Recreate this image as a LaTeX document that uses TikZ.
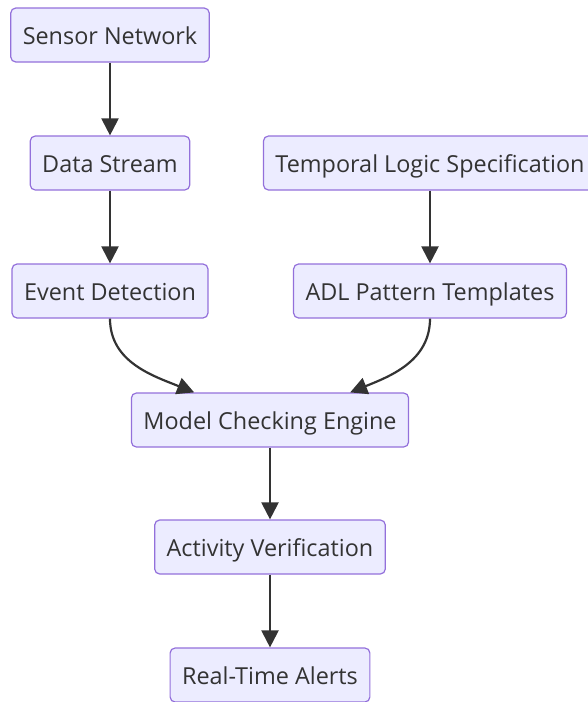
\documentclass[tikz,border=0pt]{standalone}
\usepackage{fontspec}
\setmainfont{Open Sans}
\usetikzlibrary{arrows.meta}
\definecolor{boxfill}{HTML}{ECECFF}
\definecolor{boxline}{HTML}{9370DB}
\definecolor{ink}{HTML}{333333}

\begin{document}
\begin{tikzpicture}
	[x=1pt,y=-1pt,every node/.style={rectangle, rounded corners=5pt, draw=boxline, line width=1.2pt, fill=boxfill,
		text=ink, font=\fontsize{23.4}{28}\selectfont, minimum height=54pt, inner xsep=12pt,
		text height=22pt, text depth=4pt},
	 arr/.style={draw=ink, line width=2.2pt, -{Triangle[length=17pt,width=17pt]}}]
	\useasboundingbox (0,0) rectangle (587,702);
	\node (sn) at (110,35)  {Sensor Network};
	\node (ds) at (110,163) {Data Stream};
	\node (tl) at (430,163) {Temporal Logic Specification};
	\node (ed) at (110,291) {Event Detection};
	\node (ad) at (430,291) {ADL Pattern Templates};
	\node (mc) at (270,420) {Model Checking Engine};
	\node (av) at (270,547) {Activity Verification};
	\node (ra) at (270,675) {Real-Time Alerts};
	
	\foreach \from/\to in {sn/ds,ds/ed,tl/ad,mc/av,av/ra}
		\draw[arr] (\from) -- (\to);
	\draw[arr] (ed.south) to[out=-90,in=158] (mc.160);
	\draw[arr] (ad.south) to[out=-90,in=22] (mc.19);
	\end{tikzpicture}
\end{document}
